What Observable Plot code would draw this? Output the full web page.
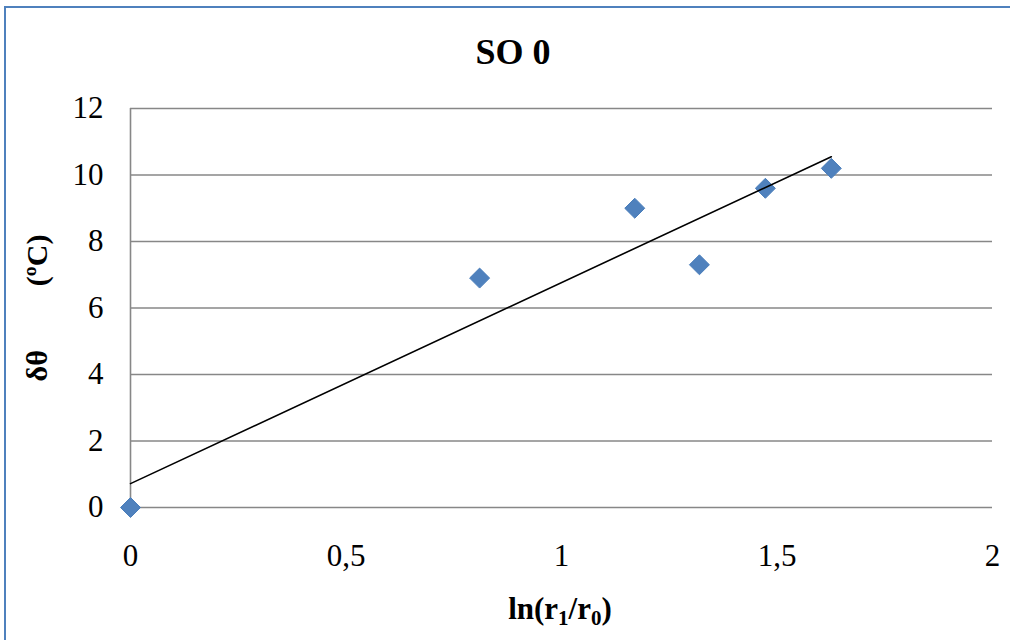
<!DOCTYPE html>
<html><head><meta charset="utf-8">
<script src="https://cdn.jsdelivr.net/npm/d3@7"></script>
<script src="https://cdn.jsdelivr.net/npm/@observablehq/plot@0.6"></script>
<style>
body{margin:0;background:#fff;}
#wrap{position:relative;width:1010px;height:640px;overflow:hidden;font-family:"Liberation Serif","Times New Roman",serif;background:#fff;}
#frame{position:absolute;left:4px;top:6px;width:1100px;height:700px;border:2px solid #4F81BD;box-sizing:border-box;}
#chart{position:absolute;left:0;top:0;}
.t{position:absolute;font-weight:bold;color:#000;white-space:pre;line-height:1;}
#title{left:513px;top:34px;font-size:36px;transform:translateX(-50%);}
#xl{left:560px;top:593px;font-size:31px;transform:translateX(-50%);}
#xl sub{font-size:21px;vertical-align:-6px;line-height:0;}
#yl{left:37px;top:308px;font-size:30px;transform:translate(-50%,-50%) rotate(-90deg);}
</style></head><body>
<div id="wrap"><div id="frame"></div><div id="chart"></div>
<div class="t" id="title">SO 0</div>
<div class="t" id="xl">ln(r<sub>1</sub>/r<sub>0</sub>)</div>
<div class="t" id="yl"><span>δθ</span><span style="display:inline-block;width:64px"></span><span>(ºC)</span></div>
</div>
<script>
const xValues = [0, 0.81, 1.17, 1.32, 1.473, 1.626];
const yValues = [0, 6.9, 9.0, 7.3, 9.6, 10.2];
const xTicks = [0, 0.5, 1, 1.5, 2];
const xTickLabels = ["0", "0,5", "1", "1,5", "2"];
const yTicks = [0, 2, 4, 6, 8, 10, 12];

const data = xValues.map((x, i) => ({x, y: yValues[i]}));
const font = "Liberation Serif, Times New Roman, serif";

const plot = Plot.plot({
  width: 1010,
  height: 640,
  marginTop: 108,
  marginBottom: 133,
  marginLeft: 130,
  marginRight: 18,
  style: {background: "transparent", fontFamily: font, fontSize: "31px", color: "#000"},
  x: {domain: [0, 2]},
  y: {domain: [0, 12]},
  marks: [
    Plot.ruleY(yTicks, {stroke: "#878787", strokeWidth: 1.6, strokeOpacity: 1}),
    Plot.ruleX([0], {y1: 0, y2: 12, stroke: "#878787", strokeWidth: 1.6}),
    Plot.axisY(yTicks, {tickSize: 0, tickPadding: 27, fontSize: 31, fontFamily: font, fill: "#000", label: null}),
    Plot.axisX(xTicks, {tickSize: 0, tickPadding: 36, fontSize: 31, fontFamily: font, fill: "#000", label: null,
      tickFormat: d => xTickLabels[xTicks.indexOf(d)]}),
    Plot.dot(data, {x: "x", y: "y", symbol: "diamond2", r: 9, fill: "#4F81BD", stroke: "#4A7EBB", strokeWidth: 1}),
    Plot.linearRegressionY(data, {x: "x", y: "y", stroke: "#000", strokeWidth: 1.6, ci: 0})
  ]
});
document.getElementById("chart").appendChild(plot);
</script>
</body></html>
